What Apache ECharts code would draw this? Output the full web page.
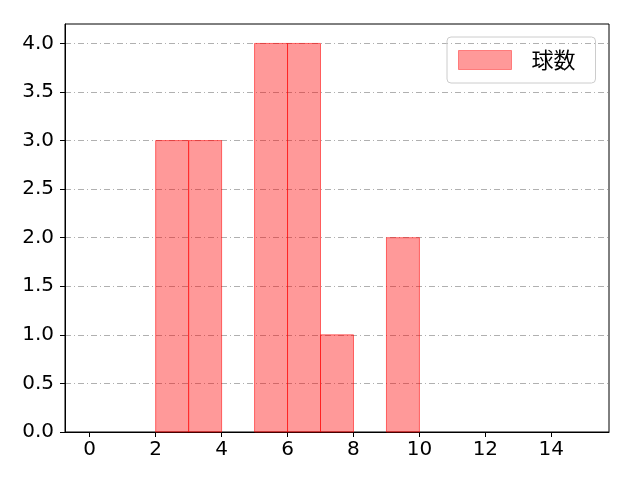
<!DOCTYPE html>
<html><head><meta charset="utf-8">
<script src="https://cdn.jsdelivr.net/npm/echarts@6/dist/echarts.min.js"></script>
<style>html,body{margin:0;padding:0;background:#fff}#c{width:640px;height:480px}</style>
</head><body><div id="c"></div>
<script>
const binStarts = [2, 3, 5, 6, 7, 9];
const binEnds   = [3, 4, 6, 7, 8, 10];
const counts    = [3, 3, 4, 4, 1, 2];
const xTicks = [0, 2, 4, 6, 8, 10, 12, 14];
const yTicks = [0, 0.5, 1, 1.5, 2, 2.5, 3, 3.5, 4];
const seriesName = '球数';

const data = binStarts.map((s, i) => [s, binEnds[i], counts[i]]);
const font = '"DejaVu Sans", sans-serif';
const cjkFont = '"Noto Sans CJK JP", sans-serif';
const chart = echarts.init(document.getElementById('c'));
chart.setOption({
  animation: false,
  grid: { left: 65, right: 31, top: 24, bottom: 48, show: true, borderColor: '#000', borderWidth: 1, backgroundColor: 'transparent' },
  legend: {
    left: 447, top: 37, orient: 'vertical',
    itemWidth: 53, itemHeight: 19, itemGap: 10,
    padding: [12, 20, 12, 11],
    borderColor: '#cccccc', borderWidth: 1, borderRadius: 4,
    textStyle: { fontSize: 22, fontFamily: cjkFont, color: '#000', padding: [0, 0, 0, 15], lineHeight: 22 },
    data: [{ name: seriesName, icon: 'rect', itemStyle: { color: 'rgba(255,0,0,0.4)', borderColor: 'rgba(255,0,0,0.4)', borderWidth: 1 } }]
  },
  xAxis: {
    type: 'value', min: -0.75, max: 15.75,
    axisLine: { show: true, onZero: false, lineStyle: { color: '#000' } },
    axisTick: { show: true, length: 5, customValues: xTicks, lineStyle: { color: '#000' } },
    axisLabel: { customValues: xTicks, fontSize: 20, fontFamily: font, color: '#000', margin: 8 },
    splitLine: { show: false }
  },
  yAxis: {
    type: 'value', min: 0, max: 4.2,
    axisLine: { show: true, onZero: false, lineStyle: { color: '#000' } },
    axisTick: { show: true, length: 5, customValues: yTicks, lineStyle: { color: '#000' } },
    axisLabel: { customValues: yTicks, fontSize: 20, fontFamily: font, color: '#000', margin: 11, formatter: v => v.toFixed(1) },
    splitLine: { show: true, lineStyle: { color: '#b0b0b0', width: 1, type: [6, 3, 1, 3] } }
  },
  series: [{
    name: seriesName,
    type: 'custom',
    renderItem: (params, api) => {
      const p0 = api.coord([api.value(0), api.value(2)]);
      const p1 = api.coord([api.value(1), 0]);
      return {
        type: 'rect',
        shape: { x: p0[0], y: p0[1], width: p1[0] - p0[0], height: p1[1] - p0[1] },
        style: { fill: 'rgba(255,0,0,0.4)', stroke: 'rgba(255,0,0,0.55)', lineWidth: 1 }
      };
    },
    itemStyle: { color: 'rgba(255,0,0,0.4)' },
    encode: { x: [0, 1], y: 2 },
    data: data
  }]
});
</script></body></html>
